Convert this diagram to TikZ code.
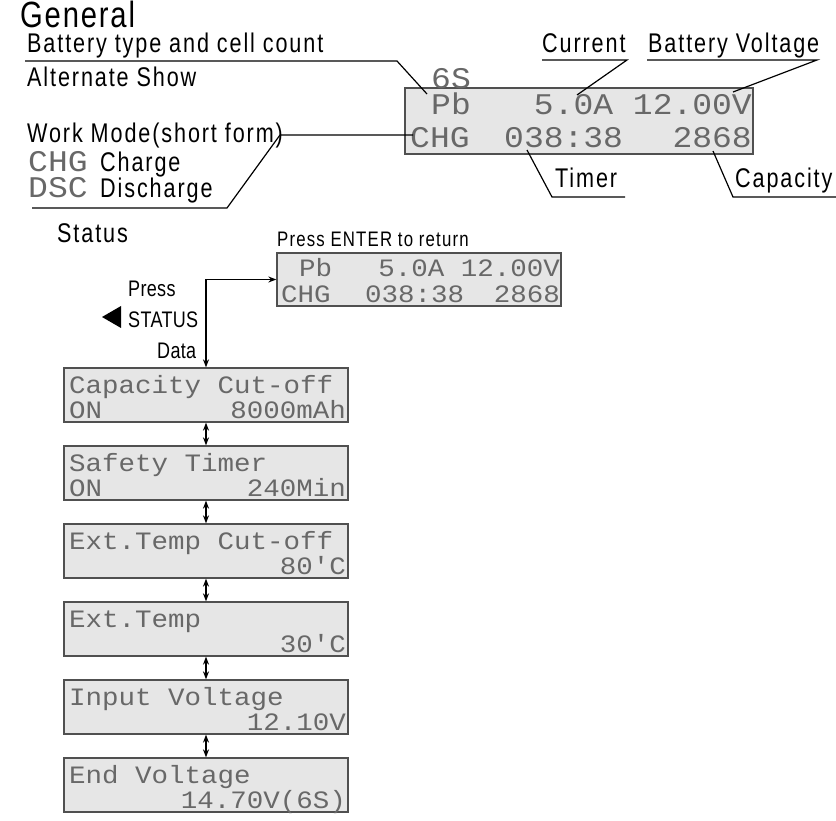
\documentclass[tikz,border=0pt]{standalone}
\usepackage{fontspec}
\setmainfont{Liberation Sans}[FakeStretch=0.8]
\newfontfamily\lcdfont{Liberation Mono}[FakeStretch=1.1]
\usetikzlibrary{arrows.meta}
\definecolor{lcdbg}{HTML}{E6E6E6}
\definecolor{lcdfg}{HTML}{686868}
\definecolor{lcdframe}{HTML}{505050}
\begin{document}
\begin{tikzpicture}[x=1pt,y=-1pt,
  lab/.style={inner sep=0pt, anchor=base west, font=\fontsize{27}{28}\selectfont\addfontfeature{LetterSpace=7}},
  smalllab/.style={inner sep=0pt, anchor=base west, font=\fontsize{22.5}{23}\selectfont\addfontfeature{LetterSpace=1.5}},
  lcdA/.style={inner sep=0pt, anchor=base west, text=lcdfg, font=\lcdfont\fontsize{30}{31}\selectfont},
  lcdB/.style={inner sep=0pt, anchor=base west, text=lcdfg, font=\lcdfont\fontsize{25}{26}\selectfont},
  lcdbox/.style={draw=lcdframe, fill=lcdbg, line width=1.3pt, rectangle, inner sep=0pt, minimum width=284pt, minimum height=54pt},
  leader/.style={line width=1.2pt, black},
  arr/.style={line width=1.4pt, {Stealth[length=8pt,width=6pt]}-{Stealth[length=8pt,width=6pt]}}
]
\useasboundingbox (0,0) rectangle (836,821);

% ---------- General ----------
\node[inner sep=0pt, anchor=base west, font=\fontsize{36.5}{37}\selectfont\addfontfeature{LetterSpace=5}] (gen) at (20,28) {General};
\node[lab] (bt) at (27,53) {Battery type and cell count};
\node[lab] (alt) at (27,87) {Alternate Show};
\node[lab] (wm) at (27,143) {Work Mode(short form)};
\node[lcdA] (chgl) at (28,172) {CHG};
\node[lab] (chgt) at (100,172) {Charge};
\node[lcdA] (dscl) at (28,198) {DSC};
\node[lab] (dsct) at (100,198) {Discharge};
\node[lab] (cur) at (542,53) {Current};
\node[lab] (bv) at (648,53) {Battery Voltage};
\node[lab] (tim) at (555,188) {Timer};
\node[lab] (capl) at (735,188) {Capacity};

\node[draw=lcdframe, fill=lcdbg, line width=1.3pt, rectangle, inner sep=0pt, minimum width=348pt, minimum height=66pt] (main) at (579,121) {};
\node[lcdA] (m1a) at (431,115) {Pb};
\node[lcdA, anchor=base east] (m1b) at (752,115) {5.0A 12.00V};
\node[lcdA] (m2a) at (410,148) {CHG};
\node[lcdA] (m2b) at (504,148) {038:38};
\node[lcdA, anchor=base east] (m2c) at (752,148) {2868};
\node[lcdA] (six) at (431,89) {6S};

\coordinate (pBT) at (427,94);
\coordinate (pCur) at (577,95);
\coordinate (pBV) at (733,92);
\coordinate (pTim) at (527,150);
\coordinate (pCap) at (713,151);
\coordinate (pWM) at (413,135);

\draw[leader] (25,61) -- (397,61) -- (pBT);
\draw[leader] (542,60) -- (627,60) -- (pCur);
\draw[leader] (647,60) -- (817,60) -- (pBV);
\draw[leader] (625,197) -- (552,197) -- (pTim);
\draw[leader] (836,197) -- (733,197) -- (pCap);
\draw[leader] (32,208) -- (227,208) -- (280,135) -- (pWM);

% ---------- Status ----------
\node[inner sep=0pt, anchor=base west, font=\fontsize{27}{28}\selectfont\addfontfeature{LetterSpace=7}] (st) at (57,243) {Status};
\node[inner sep=0pt, anchor=base west, font=\fontsize{21}{22}\selectfont\addfontfeature{LetterSpace=5.5}] (pet) at (277,247) {Press ENTER to return};
\node[smalllab] (press) at (128,297) {Press};
\node[smalllab] (stat) at (128,327) {STATUS};
\node[smalllab] (data) at (157,359) {Data};
\fill (121,306) -- (121,328) -- (102,317) -- cycle;

\node[lcdbox, minimum height=53pt] (sbox) at (419,279.5) {};
\node[lcdB] (s1a) at (299,277) {Pb};
\node[lcdB, anchor=base east] (s1b) at (560,277) {5.0A 12.00V};
\node[lcdB] (s2a) at (281,303) {CHG};
\node[lcdB] (s2b) at (365,303) {038:38};
\node[lcdB, anchor=base east] (s2c) at (560,303) {2868};

\node[lcdbox] (b1) at (206,395) {};
\node[lcdbox] (b2) at (206,473) {};
\node[lcdbox] (b3) at (206,551) {};
\node[lcdbox] (b4) at (206,629) {};
\node[lcdbox] (b5) at (206,707) {};
\node[lcdbox] (b6) at (206,785) {};

\node[lcdB] at (69,393) {Capacity Cut-off};
\node[lcdB] at (69,418) {ON};
\node[lcdB, anchor=base east] at (346,418) {8000mAh};
\node[lcdB] at (69,471) {Safety Timer};
\node[lcdB] at (69,496) {ON};
\node[lcdB, anchor=base east] at (346,496) {240Min};
\node[lcdB] at (69,549) {Ext.Temp Cut-off};
\node[lcdB, anchor=base east] at (346,574) {80'C};
\node[lcdB] at (69,627) {Ext.Temp};
\node[lcdB, anchor=base east] at (346,652) {30'C};
\node[lcdB] at (69,705) {Input Voltage};
\node[lcdB, anchor=base east] at (346,730) {12.10V};
\node[lcdB] at (69,783) {End Voltage};
\node[lcdB, anchor=base east] at (346,808) {14.70V(6S)};

\draw[arr] (sbox.west) -| (b1.north);
\draw[arr] (b1.south) -- (b2.north);
\draw[arr] (b2.south) -- (b3.north);
\draw[arr] (b3.south) -- (b4.north);
\draw[arr] (b4.south) -- (b5.north);
\draw[arr] (b5.south) -- (b6.north);
\end{tikzpicture}
\end{document}
